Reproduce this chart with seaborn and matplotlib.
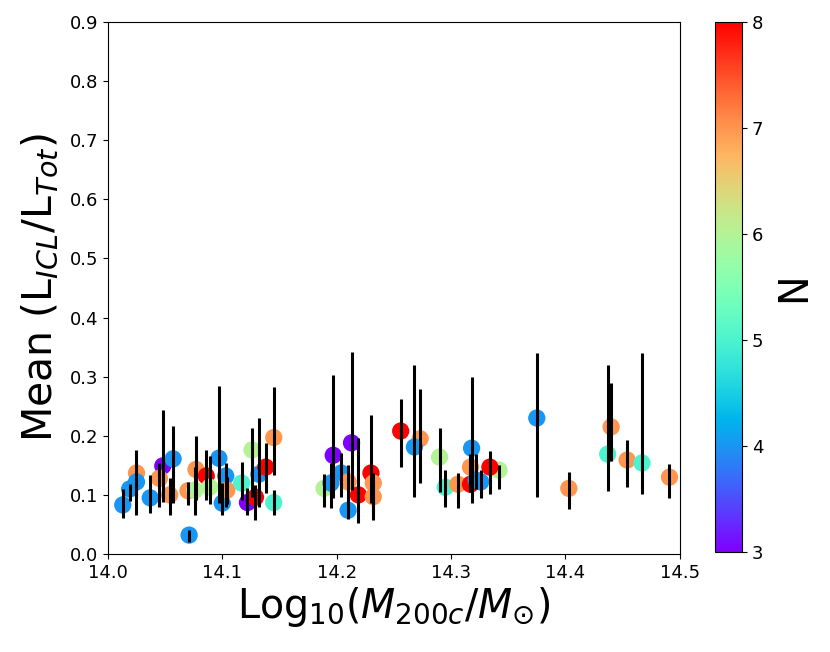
import numpy as np
import pandas as pd
import matplotlib
matplotlib.use("Agg")
import matplotlib.pyplot as plt
import seaborn as sns

# ---- data ----
log_mass = [14.013, 14.019, 14.025, 14.025, 14.037, 14.048, 14.045, 14.057, 14.054,
            14.077, 14.070, 14.076, 14.086, 14.071, 14.089, 14.097, 14.103, 14.100,
            14.104, 14.126, 14.117, 14.132, 14.138, 14.122, 14.129, 14.145, 14.145,
            14.189, 14.195, 14.204, 14.197, 14.213, 14.210, 14.210, 14.219, 14.230,
            14.232, 14.232, 14.256, 14.273, 14.268, 14.290, 14.295, 14.306, 14.318,
            14.317, 14.317, 14.326, 14.342, 14.334, 14.322, 14.375, 14.403, 14.440,
            14.437, 14.454, 14.467, 14.491]
mean_frac = [0.083, 0.110, 0.137, 0.122, 0.095, 0.149, 0.128, 0.161, 0.100,
             0.143, 0.107, 0.108, 0.132, 0.032, 0.113, 0.162, 0.132, 0.086,
             0.108, 0.176, 0.120, 0.135, 0.147, 0.087, 0.096, 0.197, 0.087,
             0.111, 0.120, 0.137, 0.167, 0.188, 0.122, 0.074, 0.100, 0.137,
             0.120, 0.097, 0.208, 0.195, 0.181, 0.164, 0.113, 0.118, 0.179,
             0.147, 0.118, 0.122, 0.142, 0.147, 0.125, 0.230, 0.111, 0.215,
             0.169, 0.159, 0.154, 0.130]
err_low = [0.061, 0.090, 0.066, 0.095, 0.069, 0.088, 0.080, 0.086, 0.066,
           0.091, 0.083, 0.066, 0.091, 0.020, 0.085, 0.086, 0.080, 0.066,
           0.085, 0.096, 0.091, 0.080, 0.103, 0.066, 0.057, 0.134, 0.066,
           0.080, 0.078, 0.097, 0.095, 0.108, 0.075, 0.060, 0.052, 0.086,
           0.058, 0.070, 0.147, 0.120, 0.097, 0.105, 0.080, 0.078, 0.086,
           0.108, 0.105, 0.095, 0.110, 0.101, 0.110, 0.097, 0.076, 0.157,
           0.107, 0.113, 0.101, 0.095]
err_high = [0.110, 0.118, 0.176, 0.130, 0.134, 0.244, 0.154, 0.216, 0.128,
            0.200, 0.122, 0.147, 0.176, 0.040, 0.165, 0.285, 0.154, 0.120,
            0.130, 0.213, 0.155, 0.230, 0.188, 0.112, 0.116, 0.283, 0.108,
            0.135, 0.154, 0.171, 0.303, 0.342, 0.150, 0.090, 0.196, 0.235,
            0.137, 0.120, 0.262, 0.279, 0.320, 0.213, 0.142, 0.137, 0.300,
            0.170, 0.145, 0.142, 0.150, 0.175, 0.170, 0.340, 0.139, 0.289,
            0.320, 0.193, 0.340, 0.152]
n_members = [4, 4, 7, 4, 4, 3, 7, 4, 7,
             7, 7, 6, 8, 4, 6, 4, 4, 4,
             7, 6, 5, 4, 8, 3, 8, 7, 5,
             6, 4, 4, 3, 3, 7, 4, 8, 8,
             7, 7, 8, 7, 4, 6, 5, 7, 4,
             7, 8, 4, 6, 8, 4, 4, 7, 7,
             5, 7, 5, 7]

df = pd.DataFrame({"x": log_mass, "y": mean_frac, "lo": err_low,
                   "hi": err_high, "N": n_members})

fig = plt.figure(figsize=(8.3, 6.52), dpi=100)
ax = fig.add_axes([0.130, 0.1503, 0.689, 0.816])
cax = fig.add_axes([0.8614, 0.1534, 0.0325, 0.813])

norm = matplotlib.colors.Normalize(vmin=3, vmax=8)
sns.scatterplot(data=df, x="x", y="y", hue="N", palette="rainbow",
                hue_norm=norm, s=155, linewidth=0, legend=False,
                ax=ax, zorder=2)

yerr = np.array([df["y"] - df["lo"], df["hi"] - df["y"]])
ax.errorbar(df["x"], df["y"], yerr=yerr, fmt="none", ecolor="black",
            elinewidth=2.2, capsize=0, zorder=3)

ax.set_xlim(14.0, 14.5)
ax.set_ylim(0.0, 0.9)
ax.set_xticks([14.0, 14.1, 14.2, 14.3, 14.4, 14.5])
ax.set_yticks(np.arange(0, 0.91, 0.1))
ax.tick_params(labelsize=13)
ax.set_xlabel(r"Log$_{10}$($M_{200c}/M_{\odot}$)", fontsize=28.5, labelpad=2)
ax.set_ylabel(r"Mean (L$_{ICL}$/L$_{Tot}$)", fontsize=29.5, labelpad=7)

sm = matplotlib.cm.ScalarMappable(norm=norm, cmap="rainbow")
cb = fig.colorbar(sm, cax=cax)
cb.set_ticks([3, 4, 5, 6, 7, 8])
cb.ax.tick_params(labelsize=13)
cb.set_label("N", fontsize=28.5, labelpad=8)

fig.savefig("out.png", dpi=100)
